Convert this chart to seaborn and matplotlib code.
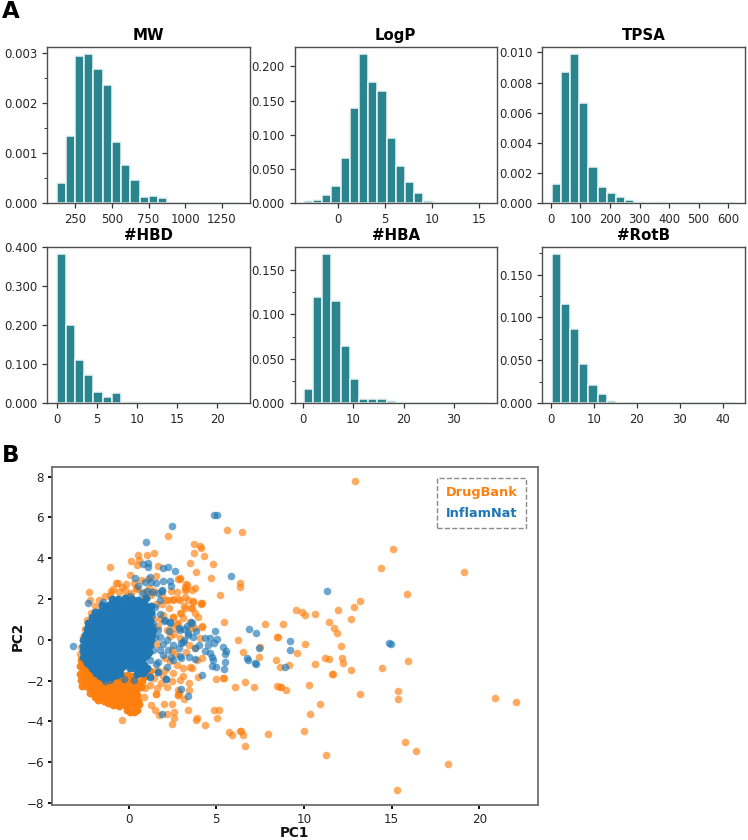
import matplotlib
matplotlib.use("Agg")
import matplotlib.pyplot as plt
from matplotlib.lines import Line2D
import seaborn as sns

# ---------- histogram data (bar heights) ----------
titles = ["MW", "LogP", "TPSA", "#HBD", "#HBA", "#RotB"]
mw_range = (123, 1381)
logp_range = (-3.58, 15.9)
tpsa_range = (2, 626)
hbd_range = (0, 23)
hba_range = (0.1, 36.8)
rotb_range = (0.1, 43)
mw_values = [.00040, .00134, .00294, .00297, .00267, .00235, .00123, .00076, .00046, .00013,
             .00014, .00011, .00001, .000005, .000005, .00001, .000002, .000002, .000002, .00001]
logp_values = [.0035, .0045, .0127, .0249, .0668, .140, .218, .1766, .164, .096,
               .0546, .0307, .0151, .0034, .0003, .0001, .0001, 0, 0, .0001]
tpsa_values = [.00128, .00872, .00989, .00662, .00239, .00106, .00066, .00044, .00022, .00007,
               .00003, .00006, .00002, .00001, .00001, .00001, 0, 0, 0, .00001]
hbd_values = [.3815, .2005, .110, .0725, .028, .017, .0273, .0034, .0034, .0012,
              .0004, .0008, .0002, .0002, .0001, 0, 0, 0, 0, .0001]
hba_values = [.0158, .120, .1677, .1154, .0643, .0271, .0049, .0049, .0053, .0023,
              .0002, .0005, .0001, 0, 0, 0, 0, 0, 0, .0001]
rotb_values = [.1737, .1161, .0869, .046, .021, .0105, .0027, .0005, .0002, .0001,
               .0001, 0, 0, 0, 0, 0, 0, 0, 0, .0001]
hist_values = [mw_values, logp_values, tpsa_values, hbd_values, hba_values, rotb_values]
hist_ranges = [mw_range, logp_range, tpsa_range, hbd_range, hba_range, rotb_range]
x_ticks = [[250, 500, 750, 1000, 1250], [0, 5, 10, 15], [0, 100, 200, 300, 400, 500, 600],
           [0, 5, 10, 15, 20], [0, 10, 20, 30], [0, 10, 20, 30, 40]]
y_ticks = [[0, .001, .002, .003], [0, .05, .1, .15, .2], [0, .002, .004, .006, .008, .01],
           [0, .1, .2, .3, .4], [0, .05, .1, .15], [0, .05, .1, .15]]
y_minor = [[.0005, .0015, .0025], [], [], [], [.025, .075, .125], [.025, .075, .125, .175]]

# ---------- PCA scatter data (PC1, PC2) ----------
drugbank_sparse = [
    (5.59, 5.41), (6.46, 5.31), (2.22, 5.08), (3.71, 4.70), (4.05, 4.62), (4.11, 4.49), (3.75, 4.24),
    (4.32, 4.10), (3.48, 3.77), (4.81, 3.70), (3.86, 3.34), (4.71, 3.05), (6.35, 2.78), (6.35, 2.59),
    (5.23, 2.18), (9.56, 1.47), (8.82, .76), (7.79, .76), (5.44, .86), (6.24, .01), (8.48, .14), (8.52, .14),
    (6.54, -.57), (7.5, -.34), (9.62, -.63), (8.38, -1.01), (7.41, -.86), (8.61, -1.34), (9.15, -1.21),
    (4.96, -1.90), (5.38, -1.86), (5.42, -1.88), (6.05, -2.32), (6.65, -2.08), (7.13, -2.32), (8.44, -2.27),
    (8.61, -2.29), (8.95, -2.44), (3.38, -3.42), (4.85, -3.46), (5.13, -3.42), (5.06, -3.85), (3.88, -3.83),
    (3.85, -3.95), (4.37, -4.16), (5.70, -4.52), (5.87, -4.65), (6.35, -4.46), (6.40, -4.46), (6.52, -4.67),
    (6.62, -5.21), (7.95, -4.61), (-.38, -3.92), (2.45, -4.10), (2.57, -3.83), (2.57, -3.54), (1.71, -3.70),
    (2.19, -3.65), (2.0, -3.13), (2.45, -3.13), (1.27, -3.19), (1.48, -3.42), (2.81, -2.70), (2.85, -2.60),
    (3.14, -2.90), (1.56, -2.65), (-1.08, 3.59), (-2.26, 2.36), (-2.19, 1.96), (.53, 4.15), (1.44, 4.26),
    (1.06, 4.16), (.15, 3.85), (.59, 3.9), (.48, 3.69), (1.69, 3.64), (.06, 3.18), (1.54, 3.11), (-.74, 2.8),
    (-.6, 2.8), (2.91, 3.03), (2.8, 3.0), (3.29, 2.73), (3.76, 2.52), (3.29, 2.49), (3.2, 2.6), (2.43, 2.41),
    (3.69, 1.93), (4.13, 1.83), (4.15, 1.75), (3.19, 2.08), (2.15, 1.96), (2.53, 2.0), (2.83, 2.0), (3.57, 1.57),
    (3.14, 1.67), (3.0, 1.31), (2.53, 1.14), (3.95, 1.14), (3.48, .9), (4.16, .68), (2.81, .85), (2.53, .6),
    (12.93, 7.81), (15.06, 4.44), (14.37, 3.51), (19.11, 3.31), (15.89, 2.24), (13.21, 1.93), (12.83, 1.60),
    (9.9, 1.37), (10.08, 1.22), (10.63, 1.26), (11.96, 1.45), (12.66, 1.01), (11.41, .89), (11.71, .58),
    (11.88, .35), (10.04, -.21), (12.09, -.30), (11.22, -.89), (11.43, -.96), (12.15, -.89), (12.21, -1.11),
    (10.63, -1.16), (12.66, -1.50), (14.43, -1.40), (15.91, -1.04), (11.61, -1.68), (11.65, -1.68),
    (10.27, -2.22), (8.67, -2.32), (13.18, -2.64), (15.34, -2.52), (15.38, -2.91), (20.89, -2.83),
    (22.07, -3.05), (10.93, -3.16), (10.36, -3.65), (10.02, -4.47), (15.74, -5.0), (16.39, -5.44),
    (18.21, -6.07), (11.24, -5.62), (15.28, -7.38),
]
drugbank_mid = [
    (2.93, 3.0), (3.3, 2.68), (2.74, 2.36), (3.21, 2.44), (3.59, 2.44), (2.26, 1.95), (2.55, 1.95), (2.93, 1.95),
    (3.4, 1.95), (3.69, 1.87), (4.16, 1.79), (3.21, 1.54), (3.59, 1.54), (2.93, 1.3), (2.55, 1.13), (3.12, 1.05),
    (3.78, 1.3), (4.16, .64), (3.78, .56), (2.74, .8), (3.5, .56), (4.07, .07), (3.78, -.42), (4.16, -.91),
    (3.88, -.99), (3.5, -1.32), (3.12, -1.4), (3.59, -1.4), (3.97, -1.8), (2.55, -1.64), (2.93, -1.97), (3.46, -2.13),
    (3.46, -2.46), (2.83, -2.46), (2.83, -2.71), (1.56, -2.65), (.93, -2.38), (.87, -2.79), (1.59, -1.48), (1.98, 1.22),
    (1.79, 1.0), (1.4, 1.0), (2.17, .48), (2.45, -.5), (2.07, -1.48), (2.3, 1.55), (1.9, 1.75), (2.6, .3), (2.95, .1),
    (2.35, -1.05), (2.75, -1.25), (1.45, -1.85), (1.85, -2.1), (2.2, -2.3), (1.2, -2.2), (3.25, -.6), (3.45, -.25),
    (1.6, -2.35), (.75, -2.1), (2.5, -2.0), (3.1, -1.75), (1.95, -1.75),
    (-.9, 2.5), (-.55, 2.35), (-.2, 2.45), (.15, 2.3), (.5, 2.5), (.85, 2.35), (1.15, 2.55), (1.45, 2.4), (.3, 2.8),
    (.7, 2.95), (1.1, 3.0), (-.15, 2.75), (-1.35, 2.15), (-1.05, 2.2), (-1.7, 1.95), (-1.9, 1.65), (-2.15, 1.3),
    (-2.35, .95), (-2.5, .55), (-2.62, .15), (-2.72, -.35), (-2.75, -.7),
    (-.4, 1.0), (.55, 1.55), (-.1, 2.15), (.85, 2.05), (1.55, 1.75), (-1.0, 2.42), (-.4, 2.6), (.4, 2.55), (1.3, 2.2),
    (1.9, 2.2), (1.7, .7), (1.6, -.2), (2.1, -.9), (2.35, .2), (2.65, -.7),
]
drugbank_lower = [
    (-2.72, -1.0), (-2.45, -1.05), (-2.75, -1.3), (-2.45, -1.4), (-2.15, -1.45), (-2.75, -1.65), (-2.45, -1.7), (-2.15, -1.75),
    (-1.85, -1.8), (-.55, -1.65), (-.1, -1.7), (.2, -1.75), (.55, -1.6), (.95, -1.75), (1.2, -1.55),
    (-2.7, -1.95), (-2.4, -2.0), (-2.1, -2.05), (-1.8, -2.05), (-1.5, -2.2), (-1.2, -2.25), (-.8, -2.05), (-.5, -2.0), (-.2, -2.1),
    (.1, -2.05), (.45, -2.15), (-2.65, -2.25), (-2.3, -2.3), (-2.0, -2.35), (-1.7, -2.4), (-1.4, -2.45), (-1.1, -2.4),
    (-.8, -2.35), (-.5, -2.4), (-.2, -2.35), (.1, -2.4), (.4, -2.45), (.7, -2.3),
    (-2.2, -2.6), (-1.9, -2.65), (-1.6, -2.7), (-1.3, -2.7), (-1.0, -2.65), (-.7, -2.7), (-.4, -2.65), (-.1, -2.7), (.2, -2.65),
    (.5, -2.7), (-1.75, -2.95), (-1.4, -3.0), (-1.05, -2.95), (-.75, -3.0), (-.45, -2.95), (-.15, -3.0), (.2, -2.95), (.55, -3.0),
    (-.9, -3.2), (-.55, -3.25), (-.2, -3.2), (.1, -3.2), (.4, -3.3), (.6, -3.15), (-.1, -3.45), (.1, -3.55), (.3, -3.55), (.45, -3.45),
    (-2.6, -1.15), (-2.3, -1.2), (-2.6, -1.5), (-2.3, -1.55), (-2.0, -1.6), (-2.55, -1.82), (-2.28, -1.88), (-1.95, -1.92),
    (-1.65, -1.95), (-1.35, -2.05), (-1.05, -2.1), (-.65, -1.85), (-.35, -1.85), (.0, -1.9), (.3, -1.9), (.75, -1.95),
    (-2.5, -2.12), (-2.2, -2.18), (-1.85, -2.22), (-1.55, -2.3), (-1.25, -2.35), (-.95, -2.25), (-.65, -2.2), (-.35, -2.22),
    (-.05, -2.25), (.25, -2.25), (.55, -2.3), (-2.05, -2.48), (-1.75, -2.55), (-1.45, -2.58), (-1.15, -2.55), (-.85, -2.5),
    (-.55, -2.52), (-.25, -2.52), (.05, -2.55), (.35, -2.58), (-1.9, -2.8), (-1.55, -2.85), (-1.2, -2.85), (-.9, -2.85),
    (-.6, -2.85), (-.3, -2.85), (.05, -2.85), (.35, -2.85), (-1.2, -3.1), (-.7, -3.12), (-.35, -3.1), (-.05, -3.12), (.25, -3.1),
]
inflamnat_sparse = [
    (4.89, 6.10), (5.06, 6.10), (2.49, 5.56), (1.01, 4.79), (2.62, 3.37), (5.86, 3.14), (.82, 3.72), (1.10, 3.75),
    (1.10, 3.59), (1.96, 3.52), (2.26, 3.59), (.36, 3.05), (1.2, 3.06), (.51, 2.65), (.91, 2.82), (1.25, 2.85),
    (1.58, 2.78), (1.96, 2.87), (2.34, 2.87), (2.43, 2.65), (1.88, 2.45), (-2.32, 1.81), (-1.46, 1.86), (-3.16, -.32),
    (6.84, .55), (7.28, .35), (9.18, -.04), (9.22, -.48), (7.41, -.39), (6.75, -.91), (6.83, -.98), (7.22, -1.11),
    (7.28, -1.17), (8.94, -1.31), (4.92, .42), (4.37, .11), (4.62, .07), (5.04, .02), (4.85, -.14), (4.52, -.24),
    (4.03, -.25), (4.37, -.55), (3.78, -.4), (5.36, -.34), (5.57, -.55), (5.49, -.71), (4.66, -.63), (4.75, -.83),
    (4.83, -1.01), (3.76, -.93), (3.46, -.85), (5.48, -1.08), (4.75, -1.29), (4.96, -1.34), (5.42, -1.45), (4.16, -1.7),
    (3.0, -2.39), (3.38, -2.73), (1.9, -3.64), (2.11, -1.9), (1.67, -1.57), (.32, -1.98), (-.29, -1.9), (-1.33, -2.03),
    (-1.05, -1.95), (1.2, -1.81), (3.57, .88), (3.86, .44), (3.38, .24), (3.14, .01), (3.0, -.14), (2.91, -.8),
    (2.87, .6), (3.14, .52), (2.34, .85), (2.0, .93), (1.77, 1.26), (11.29, 2.41), (14.87, -.14), (14.94, -.19),
    (2.07, .97), (2.36, .89), (3.59, .84), (2.93, .48), (3.4, .32), (3.69, .15), (3.12, -.09), (2.89, -.42),
    (2.55, -.25), (2.17, .0), (1.69, .48), (1.79, .15), (2.96, -.91), (2.55, -.99), (1.69, -1.07), (2.17, -1.32),
    (1.69, -1.56), (1.21, -1.8), (2.13, -1.92), (1.88, 2.41), (1.79, 1.95), (1.5, 1.62), (1.31, 1.22), (1.4, .8),
    (1.5, .15), (1.4, -.5), (1.21, -.99), (1.79, -.5), (2.26, -.5), (1.98, -.74), (3.3, .7), (.75, 2.3), (1.35, 2.35),
    (.1, 2.15), (1.05, 2.4), (1.65, 2.3), (1.95, -.2), (2.4, -.85), (2.3, .45), (1.55, -1.2),
]
inflamnat_core = [
    (-.95, 2.02), (-.6, 1.98), (-.2, 2.05), (.2, 2.0), (.55, 1.95), (1.0, 2.05),
    (-1.5, 1.72), (-1.15, 1.7), (-.8, 1.75), (-.45, 1.68), (-.1, 1.72), (.25, 1.7), (.6, 1.65), (.95, 1.72), (1.3, 1.68),
    (-1.9, 1.38), (-1.55, 1.42), (-1.2, 1.38), (-.85, 1.4), (-.5, 1.35), (-.15, 1.42), (.2, 1.38), (.55, 1.3), (.9, 1.4), (1.25, 1.36),
    (-2.1, 1.1), (-1.75, 1.08), (-1.4, 1.12), (-1.05, 1.08), (-.7, 1.1), (-.35, 1.12), (0, 1.08), (.35, 1.1), (.7, 1.05), (1.05, 1.12),
    (-2.3, .82), (-1.95, .85), (-1.6, .8), (-1.25, .84), (-.9, .82), (-.55, .85), (-.2, .8), (.15, .84), (.5, .82), (.85, .85), (1.15, .8),
    (-2.4, .55), (-2.05, .52), (-1.7, .56), (-1.35, .52), (-1.0, .55), (-.65, .52), (-.3, .56), (.05, .52), (.4, .55), (.75, .52), (1.1, .56), (1.4, .5),
    (-2.5, .25), (-2.15, .28), (-1.8, .24), (-1.45, .27), (-1.1, .25), (-.75, .28), (-.4, .24), (-.05, .27), (.3, .25), (.65, .22), (1.0, .26), (1.35, .24),
    (-2.6, -.02), (-2.25, .0), (-1.9, -.03), (-1.55, .01), (-1.2, -.02), (-.85, .0), (-.5, -.03), (-.15, .01), (.2, -.02), (.55, .0), (.9, -.03), (1.25, .0),
    (-2.62, -.3), (-2.27, -.28), (-1.92, -.31), (-1.57, -.28), (-1.22, -.3), (-.87, -.27), (-.52, -.31), (-.17, -.28), (.18, -.3), (.53, -.28), (.88, -.31), (1.2, -.27),
    (-2.6, -.56), (-2.25, -.58), (-1.9, -.55), (-1.55, -.58), (-1.2, -.56), (-.85, -.58), (-.5, -.55), (-.15, -.58), (.2, -.56), (.55, -.55), (.9, -.58), (1.15, -.6),
    (-2.6, -.85), (-2.25, -.83), (-1.9, -.86), (-1.55, -.84), (-1.2, -.85), (-.85, -.83), (-.5, -.86), (-.15, -.84), (.2, -.85), (.55, -.83), (.85, -.86),
    (-2.38, -1.12), (-2.03, -1.1), (-1.68, -1.13), (-1.33, -1.1), (-.98, -1.12), (-.63, -1.1), (-.28, -1.13), (.07, -1.1), (.42, -1.12), (.77, -1.1),
    (-2.1, -1.38), (-1.75, -1.4), (-1.4, -1.37), (-1.05, -1.4), (-.7, -1.38), (-.4, -1.35), (.05, -1.38), (.35, -1.4), (.7, -1.36), (1.05, -1.38),
    (-1.85, -1.62), (-1.5, -1.65), (-1.15, -1.62), (-.8, -1.65), (-.5, -1.6), (.45, -1.65), (.8, -1.6),
    (-1.38, -1.85), (-1.0, -1.82),
]
inflamnat_core_fill = [
    (-.78, 1.85), (-.4, 1.85), (.0, 1.86), (.4, 1.84), (.8, 1.86),
    (-1.32, 1.55), (-1.0, 1.56), (-.65, 1.54), (-.3, 1.56), (.05, 1.55), (.42, 1.52), (.78, 1.55), (1.12, 1.54),
    (-1.72, 1.24), (-1.38, 1.25), (-1.02, 1.24), (-.68, 1.25), (-.32, 1.26), (.02, 1.24), (.38, 1.24), (.72, 1.22), (1.08, 1.25),
    (-1.92, .96), (-1.58, .95), (-1.22, .96), (-.88, .95), (-.52, .97), (-.18, .95), (.18, .96), (.52, .94), (.88, .98), (1.22, .95),
    (-2.12, .68), (-1.78, .68), (-1.42, .67), (-1.08, .69), (-.72, .68), (-.38, .7), (-.02, .67), (.32, .69), (.68, .68), (1.02, .7), (1.28, .66),
    (-2.22, .4), (-1.88, .39), (-1.52, .41), (-1.18, .39), (-.82, .4), (-.48, .41), (-.12, .39), (.22, .4), (.58, .38), (.92, .4), (1.25, .4),
    (-2.32, .12), (-1.98, .12), (-1.62, .11), (-1.28, .13), (-.92, .12), (-.58, .13), (-.22, .11), (.12, .13), (.48, .12), (.82, .1), (1.18, .12),
    (-2.42, -.16), (-2.08, -.14), (-1.72, -.16), (-1.38, -.14), (-1.02, -.16), (-.68, -.14), (-.32, -.16), (.02, -.14), (.38, -.16), (.72, -.14), (1.08, -.16),
    (-2.44, -.43), (-2.08, -.42), (-1.74, -.44), (-1.38, -.42), (-1.04, -.44), (-.68, -.42), (-.34, -.44), (.02, -.42), (.36, -.44), (.72, -.42), (1.05, -.45),
    (-2.42, -.7), (-2.08, -.7), (-1.72, -.7), (-1.38, -.7), (-1.02, -.7), (-.68, -.7), (-.32, -.7), (.02, -.7), (.38, -.7), (.72, -.7), (1.02, -.72),
    (-2.45, -.98), (-2.15, -.98), (-1.78, -.98), (-1.42, -.98), (-1.08, -.98), (-.72, -.98), (-.38, -.98), (-.02, -.98), (.32, -.98), (.68, -.98),
    (-2.22, -1.25), (-1.88, -1.25), (-1.52, -1.25), (-1.18, -1.25), (-.82, -1.25), (-.48, -1.25), (-.12, -1.25), (.22, -1.25), (.58, -1.25), (.9, -1.25),
    (-1.95, -1.5), (-1.6, -1.52), (-1.25, -1.5), (-.92, -1.52), (-.6, -1.5), (.6, -1.5), (.95, -1.5),
    (-1.65, -1.75), (-1.28, -1.75), (-.92, -1.75), (-.65, -1.72),
]
# the dense clouds hold many more compounds than can be told apart, so they are overplotted
drugbank_points = drugbank_lower * 3 + drugbank_mid + drugbank_sparse
inflamnat_points = (inflamnat_core + inflamnat_core_fill) * 3 + inflamnat_sparse
pc_x_ticks = [0, 5, 10, 15, 20]
pc_y_ticks = [-8, -6, -4, -2, 0, 2, 4, 6, 8]
legend_labels = ["DrugBank", "InflamNat"]

# ---------- style ----------
sns.set_theme(style="ticks")
plt.rcParams["font.family"] = ["DejaVu Sans"]
BAR = "#2a858f"
ORANGE = "#ff7f0e"
BLUE = "#1f77b4"
INK = "#262626"
SPINE = "#4d4d4d"
W, H = 748, 840
fig = plt.figure(figsize=(W / 100, H / 100), dpi=100, facecolor="white")


def rect(l, t, r, b):
    return [l / W, 1 - b / H, (r - l) / W, (b - t) / H]


def style(ax, size):
    for s in ax.spines.values():
        s.set_color(SPINE)
        s.set_linewidth(1.0)
    ax.tick_params(axis="both", which="major", labelsize=size, length=3.5, width=0.9,
                   color="#333333", labelcolor=INK, pad=3.5)
    ax.tick_params(axis="y", which="minor", length=2, width=0.7, color="#333333")


cols = [(47.3, 250.3), (294.5, 497), (542.3, 745)]
rows = [(46.7, 203.3), (246.7, 403.3)]
for i, (title, vals, rng) in enumerate(zip(titles, hist_values, hist_ranges)):
    l, r = cols[i % 3]
    t, b = rows[i // 3]
    ax = fig.add_axes(rect(l, t, r, b))
    width = (rng[1] - rng[0]) / 20
    centers = [rng[0] + (k + .5) * width for k in range(20)]
    sns.histplot(x=centers, weights=vals, bins=20, binrange=rng, color=BAR, alpha=1,
                 edgecolor="#eef5f6", linewidth=1.1, ax=ax)
    ax.set_xticks(x_ticks[i])
    ax.set_yticks(y_ticks[i])
    ax.set_yticklabels([f"{v:.3f}" for v in y_ticks[i]])
    ax.set_yticks(y_minor[i], minor=True)
    ax.set_ylim(0, max(vals) * 1.05)
    ax.set_ylabel("")
    ax.set_title(title, fontsize=10.8, fontweight="bold", color="black", pad=5)
    style(ax, 8.4)

ax = fig.add_axes(rect(51.7, 466.7, 537.7, 805.3))
sns.scatterplot(x=[p[0] for p in drugbank_points], y=[p[1] for p in drugbank_points],
                color=ORANGE, alpha=.65, s=30, linewidth=0, ax=ax, zorder=2)
sns.scatterplot(x=[p[0] for p in inflamnat_points], y=[p[1] for p in inflamnat_points],
                color=BLUE, alpha=.65, s=30, linewidth=0, ax=ax, zorder=3)
ax.set_xlim(-4.39, 23.33)
ax.set_ylim(-8.11, 8.49)
ax.set_xticks(pc_x_ticks)
ax.set_yticks(pc_y_ticks)
style(ax, 8.6)
for s in ax.spines.values():
    s.set_color("#6e6e6e")
    s.set_linewidth(1.3)
ax.tick_params(axis="both", which="major", length=3, width=1.3, color="black", pad=2.5)
ax.set_xlabel("PC1", fontsize=9.8, fontweight="bold", color="#111111", labelpad=0)
ax.set_ylabel("PC2", fontsize=9.8, fontweight="bold", color="#111111", labelpad=1)

handles = [Line2D([], [], linestyle="none") for _ in legend_labels]
leg = ax.legend(handles, legend_labels, loc="upper right", bbox_to_anchor=((525.7 - 51.7) / 486, (805.3 - 477.7) / 338.6),
                borderaxespad=0, handlelength=0, handletextpad=0, labelcolor=[ORANGE, BLUE],
                prop={"weight": "bold", "size": 9.3}, fancybox=False, framealpha=1,
                edgecolor="#8a8a8a", borderpad=.65, labelspacing=.6)
leg.get_frame().set_linestyle("--")
leg.get_frame().set_linewidth(1.0)

fig.text(2 / W, 1 - 18 / H, "A", fontsize=16.5, fontweight="bold", color="black", va="baseline")
fig.text(2 / W, 1 - 462 / H, "B", fontsize=16.5, fontweight="bold", color="black", va="baseline")
fig.savefig("out.png", dpi=100, facecolor="white")
